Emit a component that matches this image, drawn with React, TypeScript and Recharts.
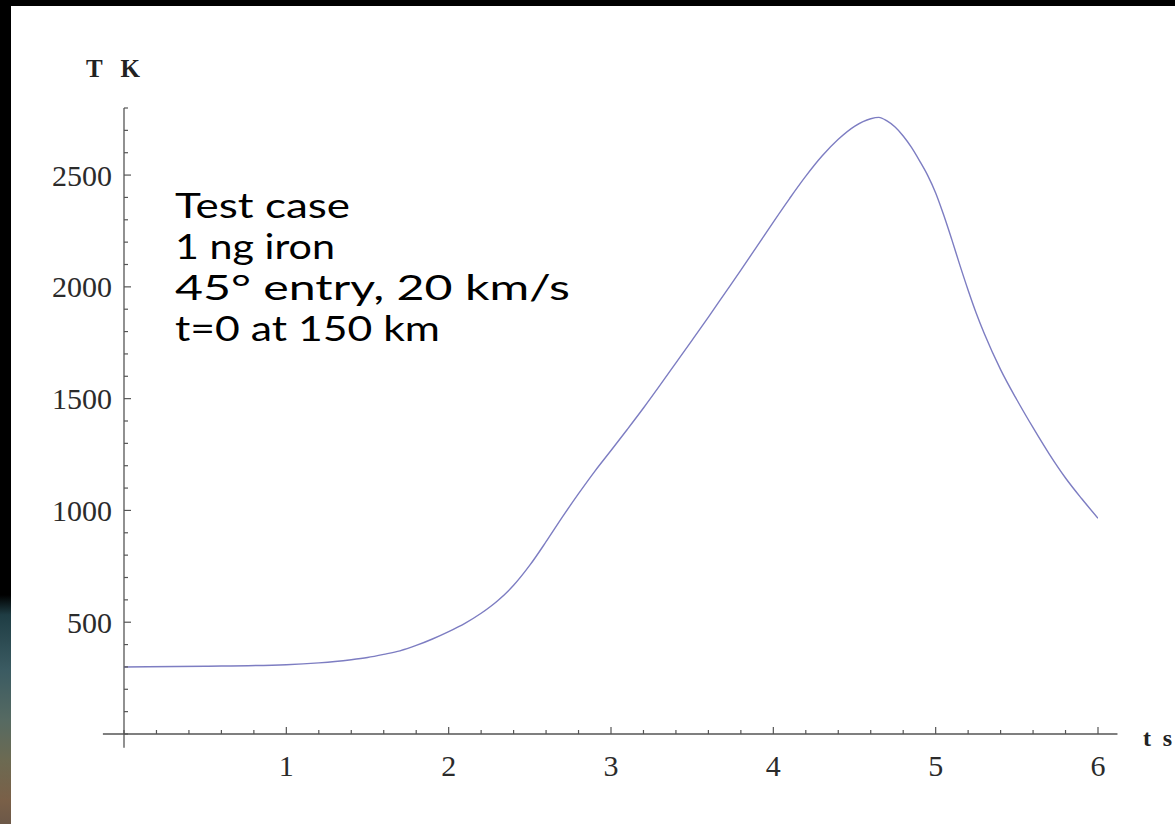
import { LineChart, Line, XAxis, YAxis, ReferenceLine } from 'recharts';

// time (s) and temperature (K)
const times = [0, 0.5, 1, 1.2, 1.3, 1.4, 1.5, 1.6, 1.7, 1.8, 1.9, 2, 2.1, 2.2, 2.3, 2.4, 2.5, 2.6, 2.7, 2.8, 2.9, 3, 3.1, 3.2, 3.3, 3.4, 3.5, 3.6, 3.7, 3.8, 3.9, 4, 4.1, 4.2, 4.3, 4.4, 4.5, 4.6, 4.65, 4.7, 4.75, 4.8, 4.85, 4.9, 4.95, 5, 5.05, 5.1, 5.15, 5.2, 5.25, 5.3, 5.4, 5.5, 5.6, 5.7, 5.8, 5.9, 6];
const temps = [300, 303, 310, 318, 324, 332, 342, 356, 372, 396, 425, 458, 495, 540, 595, 665, 755, 860, 970, 1075, 1175, 1268, 1362, 1458, 1558, 1660, 1762, 1865, 1970, 2075, 2182, 2290, 2395, 2495, 2585, 2660, 2718, 2752, 2758, 2742, 2715, 2675, 2625, 2565, 2500, 2420, 2320, 2210, 2095, 1985, 1882, 1790, 1630, 1495, 1370, 1252, 1145, 1052, 965];

const xTicks = [0, 0.2, 0.4, 0.6, 0.8, 1, 1.2, 1.4, 1.6, 1.8, 2, 2.2, 2.4, 2.6, 2.8, 3, 3.2, 3.4, 3.6, 3.8, 4, 4.2, 4.4, 4.6, 4.8, 5, 5.2, 5.4, 5.6, 5.8, 6];
const xLabels = [1, 2, 3, 4, 5, 6];
const yTicks = [0, 100, 200, 300, 400, 500, 600, 700, 800, 900, 1000, 1100, 1200, 1300, 1400, 1500, 1600, 1700, 1800, 1900, 2000, 2100, 2200, 2300, 2400, 2500, 2600, 2700, 2800];
const yLabels = [500, 1000, 1500, 2000, 2500];

const notes = ['Test case', '1 ng iron', '45° entry, 20 km/s', 't=0 at 150 km'];
const noteWidths = [175, 160, 395, 265];

const data = times.map((t, i) => ({ t, T: temps[i] }));

const AXIS = '#555';
const SERIF = '"Liberation Serif", "DejaVu Serif", serif';
const LABEL = { fontFamily: SERIF, fontSize: 30, fill: '#2b2b2b' };

function XTick({ x, y, payload }: any) {
  const v = payload.value;
  const major = xLabels.includes(v);
  return (
    <g>
      <line x1={x} x2={x} y1={y} y2={y - (major ? 7 : 4)} stroke={AXIS} strokeWidth={1.2} />
      {major && (
        <text x={x} y={y + 31} textAnchor="middle" dominantBaseline="central" {...LABEL}>{v}</text>
      )}
    </g>
  );
}

function YTick({ x, y, payload }: any) {
  const v = payload.value;
  const major = yLabels.includes(v);
  return (
    <g>
      <line x1={x} x2={x + (major ? 7 : 4)} y1={y} y2={y} stroke={AXIS} strokeWidth={1.2} />
      {major && (
        <text x={x - 12} y={y} textAnchor="end" dominantBaseline="central" {...LABEL}>{v}</text>
      )}
    </g>
  );
}

export default function App() {
  return (
    <div style={{ position: 'fixed', left: 0, top: 0, width: 1175, height: 824, background: '#000', overflow: 'hidden' }}>
      <div style={{
        position: 'absolute', left: 0, top: 0, width: 11, height: 824,
        background: 'linear-gradient(to bottom, #000 0px, #000 595px, #1f3d44 615px, #3b5b62 670px, #566a62 720px, #6c6a52 760px, #7a6048 800px, #6c5848 824px)',
      }} />
      <div style={{ position: 'absolute', left: 11, top: 6, right: 0, bottom: 0, background: '#fff' }} />
      <div style={{ position: 'absolute', left: 0, top: 0 }}>
        <LineChart width={1175} height={824} data={data} margin={{ top: 108, right: 77, bottom: 30, left: 64 }}>
          <XAxis
            dataKey="t" type="number" domain={[0, 6]} ticks={xTicks} interval={0}
            axisLine={false} tickLine={false} tickSize={0} tickMargin={0} height={60}
            tick={(p: any) => <XTick {...p} />} allowDataOverflow
          />
          <YAxis
            type="number" domain={[0, 2800]} ticks={yTicks} interval={0}
            axisLine={false} tickLine={false} tickSize={0} tickMargin={0} width={60}
            tick={(p: any) => <YTick {...p} />} allowDataOverflow
          />
          <ReferenceLine segment={[{ x: -0.13, y: 0 }, { x: 6.12, y: 0 }]} stroke={AXIS} strokeWidth={1.3} ifOverflow="visible" />
          <ReferenceLine segment={[{ x: 0, y: -62 }, { x: 0, y: 2800 }]} stroke={AXIS} strokeWidth={1.3} ifOverflow="visible" />
          <Line
            type="monotone" dataKey="T" stroke="#7d7dc2" strokeWidth={1.4}
            dot={false} activeDot={false} isAnimationActive={false}
          />
        </LineChart>
      </div>
      <svg width={1175} height={824} style={{ position: 'absolute', left: 0, top: 0, pointerEvents: 'none' }}>
        <text x={86} y={77} fontFamily={SERIF} fontSize={25} fontWeight="bold" fill="#222" textLength={54} lengthAdjust="spacing">T K</text>
        <text x={1143} y={746} fontFamily={SERIF} fontSize={24} fontWeight="bold" fill="#222" textLength={29} lengthAdjust="spacing">t s</text>
        {notes.map((n, i) => (
          <text
            key={n} x={175} y={218 + i * 41} fontFamily="Lato, 'Open Sans', sans-serif" fontSize={34} fill="#000"
            textLength={noteWidths[i]} lengthAdjust="spacingAndGlyphs"
          >{n}</text>
        ))}
      </svg>
    </div>
  );
}
